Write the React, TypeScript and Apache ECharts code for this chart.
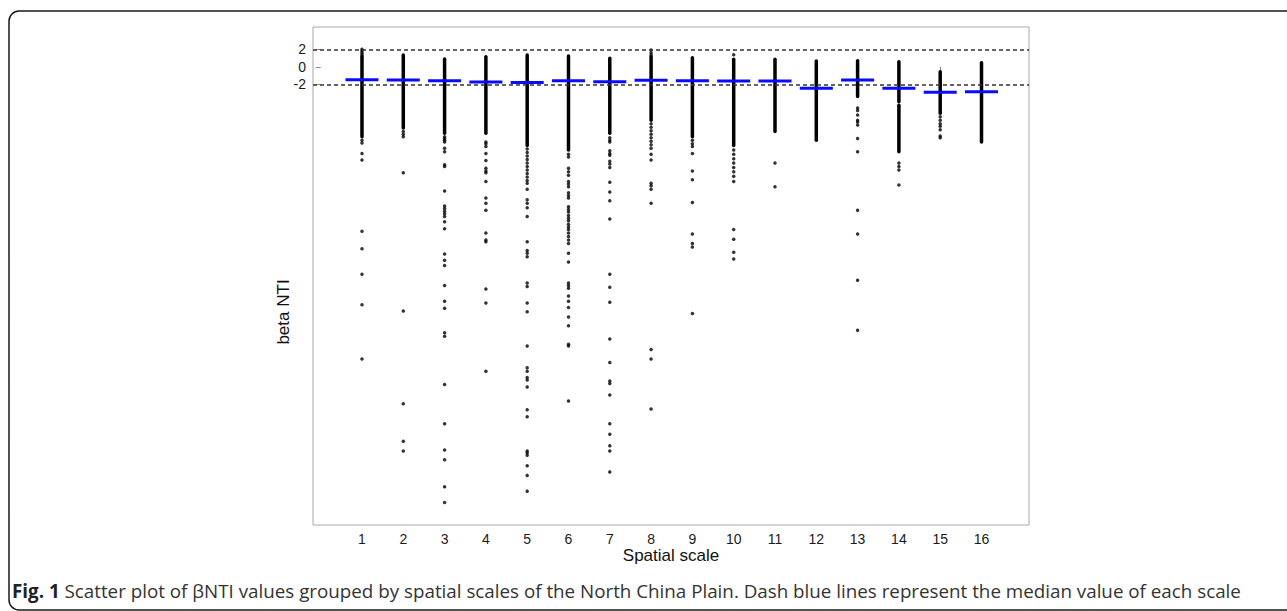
import React, { useEffect, useRef } from "react";
import * as echarts from "echarts";

// ---- data ----
const scales = [1, 2, 3, 4, 5, 6, 7, 8, 9, 10, 11, 12, 13, 14, 15, 16];
const yTicks = [-2, 0, 2];
const thresholds = [2, -2];

const medians = [-1.47, -1.51, -1.58, -1.74, -1.78, -1.58, -1.7, -1.55, -1.58, -1.62, -1.62, -2.46, -1.51, -2.46, -2.91, -2.84];

// dense (overplotted) runs of points: scale, top, bottom
const denseScale = [1, 2, 3, 4, 5, 6, 7, 8, 9, 10, 11, 12, 13, 14, 14, 15, 16];
const denseTop = [1.2, 1.35, 0.9, 1.15, 1.35, 1.23, 0.97, 1.15, 1.04, 0.86, 0.86, 0.66, 0.7, 0.58, -4.4, -0.56, 0.47];
const denseBottom = [-8.0, -7.0, -7.6, -7.6, -9.0, -9.5, -7.6, -6.1, -8.0, -9.0, -7.4, -8.4, -3.4, -4.0, -9.7, -5.3, -8.6];

// individual points outside the dense runs
const scale1 = [2.0, 1.8, 1.6, 1.4, -8.4, -8.7, -9.9, -10.65, -18.8, -20.8, -23.7, -27.2, -33.4];
const scale2 = [-7.4, -7.7, -8.0, -12.1, -27.9, -38.5, -42.8, -43.9];
const scale3 = [-8.0, -8.2, -8.4, -8.6, -9.3, -9.7, -11.2, -11.4, -14.2, -15.9, -16.2, -16.5, -16.8, -17.1, -17.7, -18.5, -21.4, -22.1, -22.7, -25.0, -26.8, -27.6, -30.4, -30.8, -36.3, -40.8, -43.8, -44.9, -48.0, -49.8];
const scale4 = [-8.6, -8.8, -9.1, -9.9, -10.7, -11.6, -11.9, -12.1, -13.1, -15.0, -15.6, -16.4, -19.0, -19.8, -20.0, -25.4, -27.0, -34.8];
const scale5 = [-9.4, -9.8, -10.2, -10.6, -11.0, -11.4, -11.8, -12.2, -12.6, -13.0, -13.3, -14.0, -15.2, -15.6, -16.1, -17.1, -20.0, -21.0, -21.3, -21.7, -24.7, -25.1, -27.0, -28.0, -31.9, -34.4, -34.8, -35.5, -35.8, -36.6, -39.2, -40.0, -43.9, -44.1, -44.4, -45.6, -46.7, -48.5];
const scale6 = [-10.0, -10.3, -11.6, -12.0, -12.4, -13.1, -13.4, -13.7, -14.4, -14.7, -15.0, -16.0, -16.3, -16.6, -17.0, -17.3, -17.6, -18.0, -18.3, -18.6, -19.0, -19.4, -19.8, -20.2, -21.3, -22.3, -24.7, -25.0, -25.3, -26.2, -26.8, -27.5, -28.6, -29.6, -31.7, -31.9, -38.2];
const scale7 = [-8.1, -8.4, -8.6, -9.6, -9.9, -10.1, -10.8, -11.1, -11.5, -13.2, -14.3, -15.3, -17.4, -23.7, -25.2, -26.9, -31.1, -33.8, -35.9, -36.2, -37.5, -40.8, -42.0, -43.3, -43.9, -46.3];
const scale8 = [1.92, 1.6, 1.35, -6.5, -6.9, -7.3, -7.7, -8.1, -8.5, -8.9, -9.3, -10.0, -10.65, -13.3, -13.6, -14.0, -15.6, -32.3, -33.4, -39.1];
const scale9 = [-8.4, -8.8, -9.1, -9.9, -11.9, -12.9, -15.5, -19.1, -20.2, -20.6, -28.2];
const scale10 = [1.38, -9.5, -10.0, -10.5, -11.0, -11.5, -12.0, -12.5, -13.1, -18.6, -19.7, -21.2, -21.96];
const scale11 = [-11.0, -13.7];
const scale12: number[] = [];
const scale13 = [-4.7, -5.0, -5.5, -6.1, -6.3, -6.65, -8.2, -9.7, -16.4, -19.1, -24.4, -30.1];
const scale14 = [-11.0, -11.4, -11.8, -13.5];
const scale15 = [-5.7, -6.1, -6.5, -6.8, -7.2, -7.9, -8.1];
const scale16: number[] = [];

const outliers = [scale1, scale2, scale3, scale4, scale5, scale6, scale7, scale8, scale9, scale10, scale11, scale12, scale13, scale14, scale15, scale16];

const caption =
  "Scatter plot of βNTI values grouped by spatial scales of the North China Plain. Dash blue lines represent the median value of each scale";

export default function App() {
  const ref = useRef<HTMLDivElement>(null);

  useEffect(() => {
    if (!ref.current) return;
    const chart = echarts.init(ref.current, undefined, { renderer: "svg" });

    const scatterData: number[][] = [];
    outliers.forEach((arr, i) => arr.forEach((v) => scatterData.push([scales[i], v])));

    const axisFont = "Liberation Sans, Arial, sans-serif";

    const option: any = {
      animation: false,
      backgroundColor: "#fff",
      grid: {
        left: 313,
        right: 258,
        top: 27,
        bottom: 86,
        show: true,
        borderColor: "#a8a8a8",
        borderWidth: 1,
      },
      xAxis: {
        type: "value",
        min: -0.186,
        max: 17.15,
        axisLine: { show: false },
        splitLine: { show: false },
        axisTick: { show: true, length: 4, customValues: scales, lineStyle: { color: "#888" } },
        axisLabel: {
          customValues: scales,
          color: "#1a1a1a",
          fontSize: 14,
          fontFamily: axisFont,
          margin: 7,
        },
      },
      yAxis: {
        type: "value",
        min: -52.37,
        max: 4.55,
        axisLine: { show: false },
        splitLine: { show: false },
        axisTick: { show: true, length: 5, customValues: yTicks, lineStyle: { color: "#888" } },
        axisLabel: {
          customValues: yTicks,
          color: "#1a1a1a",
          fontSize: 14,
          fontFamily: axisFont,
          margin: 7,
        },
      },
      series: [
        {
          type: "custom",
          renderItem: (params: any, api: any) => {
            const x = api.value(0);
            const p1 = api.coord([x, api.value(1)]);
            const p2 = api.coord([x, api.value(2)]);
            return {
              type: "line",
              shape: { x1: p1[0], y1: p1[1], x2: p2[0], y2: p2[1] },
              style: { stroke: "#000", lineWidth: 3.5, lineCap: "round" },
            };
          },
          encode: { x: 0, y: [1, 2] },
          data: denseScale.map((s, i) => [s, denseTop[i], denseBottom[i]]),
          z: 2,
        },
        {
          type: "scatter",
          symbol: "circle",
          symbolSize: 3.5,
          itemStyle: { color: "#000" },
          data: scatterData,
          z: 3,
          markLine: {
            silent: true,
            symbol: ["none", "none"],
            label: { show: false },
            lineStyle: { type: [4, 3], color: "#333", width: 1.5 },
            data: thresholds.map((t) => ({ yAxis: t })),
          },
        },
        {
          type: "custom",
          renderItem: (params: any, api: any) => {
            const x = api.value(0);
            const m = api.value(1);
            const p1 = api.coord([x - 0.4, m]);
            const p2 = api.coord([x + 0.4, m]);
            return {
              type: "line",
              shape: { x1: p1[0], y1: p1[1], x2: p2[0], y2: p2[1] },
              style: { stroke: "#0a0aff", lineWidth: 3 },
            };
          },
          encode: { x: 0, y: 1 },
          data: scales.map((s, i) => [s, medians[i]]),
          z: 4,
        },
      ],
      graphic: [
        {
          type: "rect",
          shape: { x: 9, y: 11, width: 1320, height: 599, r: 10 },
          style: { fill: "none", stroke: "#1a1a1a", lineWidth: 1.5 },
          silent: true,
        },
        {
          type: "text",
          x: 283,
          y: 312,
          rotation: Math.PI / 2,
          style: {
            text: "beta NTI",
            font: "17px Liberation Sans, Arial, sans-serif",
            fill: "#111",
            align: "center",
            verticalAlign: "middle",
            textAlign: "center",
            textVerticalAlign: "middle",
          },
        },
        {
          type: "text",
          x: 671,
          y: 555,
          style: {
            text: "Spatial scale",
            font: "17px Liberation Sans, Arial, sans-serif",
            fill: "#111",
            align: "center",
            verticalAlign: "middle",
            textAlign: "center",
            textVerticalAlign: "middle",
          },
        },
        {
          type: "text",
          x: 12,
          y: 591,
          style: {
            text: "{b|Fig. 1}{r| " + caption + "}",
            align: "left",
            verticalAlign: "middle",
            textAlign: "left",
            textVerticalAlign: "middle",
            rich: {
              b: { fontFamily: "Open Sans", fontSize: 18.8, fontWeight: "bold", fill: "#222" },
              r: { fontFamily: "Open Sans", fontSize: 18.8, fill: "#333" },
            },
          },
        },
      ],
    };

    chart.setOption(option);
    return () => chart.dispose();
  }, []);

  return (
    <div
      ref={ref}
      style={{ position: "fixed", left: 0, top: 0, width: 1287, height: 611, background: "#fff" }}
    />
  );
}
